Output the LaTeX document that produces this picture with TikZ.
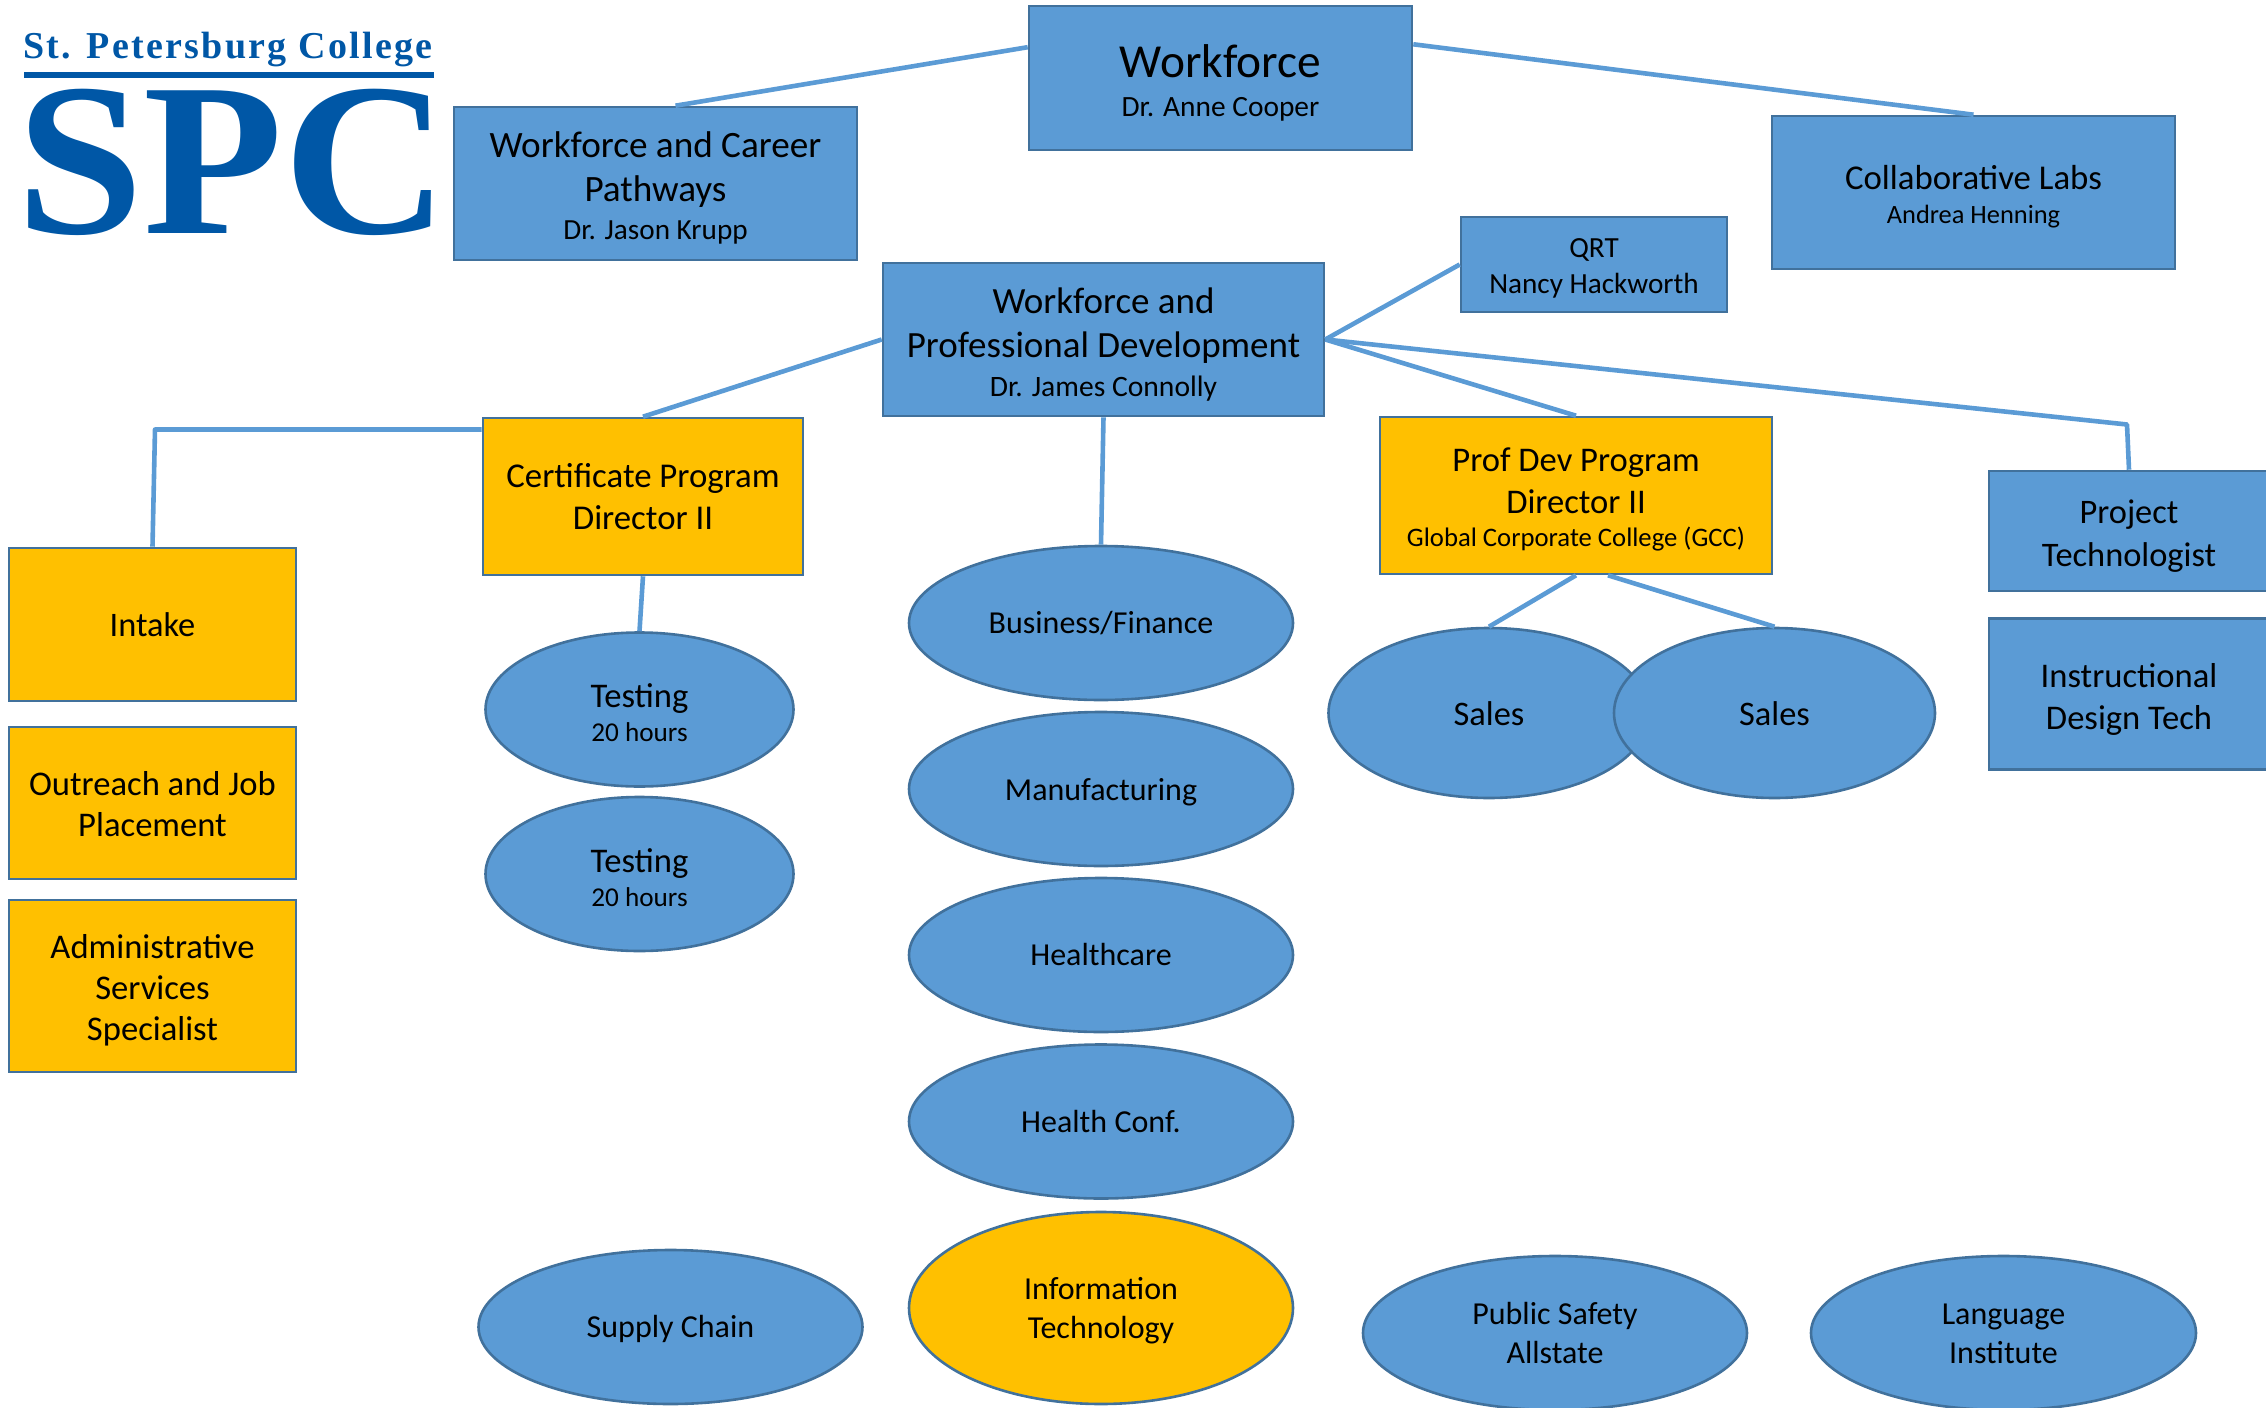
\documentclass[tikz,border=0pt]{standalone}
\usepackage{fontspec}
\usepackage{graphicx}
\setmainfont{Carlito}
\newfontfamily\logofont[LetterSpace=6.0]{Liberation Serif}
\newfontfamily\logobig{Liberation Serif}
\usetikzlibrary{shapes.geometric,calc}
\definecolor{bluefill}{HTML}{5B9BD5}
\definecolor{blueedge}{HTML}{41719C}
\definecolor{goldfill}{HTML}{FFC000}
\definecolor{spcblue}{HTML}{0057A6}
% \tl{font size}{height above baseline, pt}{text}: a line with a fixed 6pt depth
\newcommand{\tl}[3]{{\fontsize{#1}{#1}\selectfont\rule[-6pt]{0pt}{\dimexpr#2pt+6pt\relax}#3}}
\newcommand{\tightlines}{\baselineskip=0pt\lineskip=0pt\lineskiplimit=0pt\relax}
\tikzset{
  x=0.5pt,y=-0.5pt,
  shape base/.style={draw=blueedge,line width=1.3pt,inner sep=0pt,align=center,text=black,
    font=\tightlines},
  bluebox/.style 2 args={shape base,rectangle,fill=bluefill,minimum width=#1*0.5pt,minimum height=#2*0.5pt},
  goldbox/.style 2 args={shape base,rectangle,fill=goldfill,minimum width=#1*0.5pt,minimum height=#2*0.5pt},
  blueoval/.style 2 args={shape base,ellipse,fill=bluefill,minimum width=#1*0.5pt,minimum height=#2*0.5pt},
  goldoval/.style 2 args={shape base,ellipse,fill=goldfill,minimum width=#1*0.5pt,minimum height=#2*0.5pt},
  link/.style={draw=bluefill,line width=2.3pt,line join=round},
}
\begin{document}
\begin{tikzpicture}
\useasboundingbox (0,0) rectangle (2266,1408);
% logo
\node[anchor=base west,inner sep=0pt,text=spcblue] (logotop) at (23,58) {\fontsize{19}{20}\logofont\bfseries St. Petersburg College};
\fill[spcblue] (24,72) rectangle (434,78);
\node[anchor=base west,inner sep=0pt,text=spcblue] (logospc) at (16,233.5) {\scalebox{1.05}[1]{\fontsize{109}{110}\logobig\bfseries SPC}};
% boxes
\node[bluebox={383}{144}] (wf) at (1220.5,78) {\tl{23.7}{25}{Workforce}\\\tl{14.7}{13.5}{Dr. Anne Cooper}};
\node[bluebox={403}{153}] (wcp) at (655.5,183.5) {\tl{18.6}{21}{Workforce and Career}\\\tl{18.6}{16.4}{Pathways}\\\tl{14.6}{13}{Dr. Jason Krupp}};
\node[bluebox={403}{153}] (col) at (1973.5,192.5) {\tl{17.4}{20}{Collaborative Labs}\\\tl{13.2}{10.6}{Andrea Henning}};
\node[bluebox={266}{95}] (qrt) at (1594,264.5) {\tl{14.6}{16.8}{QRT}\\\tl{14.6}{12}{Nancy Hackworth}};
\node[bluebox={441}{153}] (wpd) at (1103.5,339.5) {\tl{18.5}{21.2}{Workforce and}\\\tl{18.5}{16.4}{Professional Development}\\\tl{14.8}{13.3}{Dr. James Connolly}};
\node[goldbox={320}{157}] (cert) at (643,496.5) {\tl{17.4}{17.8}{Certificate Program}\\\tl{17.4}{15}{Director II}};
\node[goldbox={392}{157}] (prof) at (1576,495.5) {\tl{17.3}{19.2}{Prof Dev Program}\\\tl{17.3}{15}{Director II}\\\tl{13.35}{10.6}{Global Corporate College (GCC)}};
\node[bluebox={280}{120}] (proj) at (2129,531) {\tl{17.2}{20}{Project}\\\tl{17.2}{15.7}{Technologist}};
\node[bluebox={280}{151}] (inst) at (2129,694) {\tl{17.3}{20}{Instructional}\\\tl{17.3}{15}{Design Tech}};
\node[goldbox={287}{153}] (intake) at (152.5,624.5) {\tl{17.2}{18.4}{Intake}};
\node[goldbox={287}{152}] (outr) at (152.5,803) {\tl{17.3}{18.8}{Outreach and Job}\\\tl{17.3}{14.5}{Placement}};
\node[goldbox={287}{172}] (adm) at (152.5,986) {\tl{17.3}{19.5}{Administrative}\\\tl{17.3}{14.7}{Services}\\\tl{17.3}{14.7}{Specialist}};
% ovals
\node[blueoval={308}{154}] (test1) at (639.5,709.5) {\tl{17.3}{21}{Testing}\\\tl{13.6}{11}{20 hours}};
\node[blueoval={308}{154}] (test2) at (639.5,874) {\tl{17.3}{21}{Testing}\\\tl{13.6}{11}{20 hours}};
\node[blueoval={384}{154}] (biz) at (1101,623) {\tl{16}{16.3}{Business/Finance}};
\node[blueoval={384}{154}] (manu) at (1101,789) {\tl{16}{17}{Manufacturing}};
\node[blueoval={384}{154}] (hc) at (1101,955) {\tl{16}{16.3}{Healthcare}};
\node[blueoval={384}{154}] (hconf) at (1101,1121.5) {\tl{16}{17}{Health Conf.}};
\node[goldoval={384}{192}] (it) at (1101,1308) {\tl{16}{17.1}{Information}\\\tl{16}{13.5}{Technology}};
\node[blueoval={384}{154}] (supply) at (670.5,1327) {\tl{16}{16.3}{Supply Chain}};
\node[blueoval={384}{154}] (pub) at (1555,1333) {\tl{16}{17.1}{Public Safety}\\\tl{16}{13.5}{Allstate}};
\node[blueoval={385}{154}] (lang) at (2003.5,1333) {\tl{16}{17.1}{Language}\\\tl{16}{13.5}{Institute}};
\node[blueoval={321}{170}] (sales1) at (1489,713) {\tl{17.2}{18.4}{Sales}};
\node[blueoval={321}{170}] (sales2) at (1774.5,713) {\tl{17.2}{18.4}{Sales}};
% connector helpers
\coordinate (bendproj) at (2127,424.5);
\coordinate (bendcert) at (155,429.5);
% connectors
\draw[link] ($(wf.north west)!0.29!(wf.south west)$) -- ($(wcp.north)+(20,0)$);
\draw[link] ($(wf.north east)!0.27!(wf.south east)$) -- (col.north);
\draw[link] (wpd.west) -- (cert.north);
\draw[link] (wpd.east) -- (qrt.west);
\draw[link] (wpd.east) -- (prof.north);
\draw[link] (wpd.east) -- (bendproj) -- (proj.north);
\draw[link] (wpd.south) -- (biz.north);
\draw[link] ($(cert.north west)!0.08!(cert.south west)$) -- (bendcert) -- (intake.north);
\draw[link] (cert.south) -- (test1.north);
\draw[link] (prof.south) -- (sales1.north);
\draw[link] ($(prof.south)+(32,0)$) -- (sales2.north);
\end{tikzpicture}
\end{document}
